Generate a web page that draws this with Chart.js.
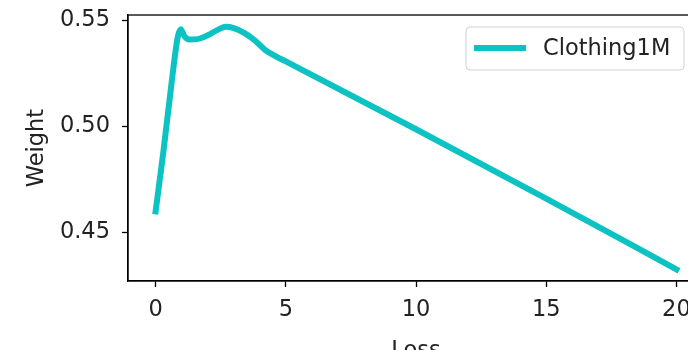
<!DOCTYPE html>
<html>
<head>
<meta charset="utf-8">
<script src="https://cdn.jsdelivr.net/npm/chart.js@4/dist/chart.umd.min.js"></script>
<style>
  html, body { margin: 0; padding: 0; overflow: hidden; background: #fff; width: 688px; height: 350px; }
  canvas { display: block; }
</style>
</head>
<body>
<canvas id="c" width="720" height="380" style="width:720px;height:380px"></canvas>
<script>
const seriesLabel = 'Clothing1M';
const lossValues   = [0, 0.3, 0.6, 0.85, 0.97, 1.1, 1.3, 1.6, 2.0, 2.4, 2.7, 3.0, 3.4, 3.8, 4.2, 4.6, 5, 10, 15, 20];
const weightValues = [0.4597, 0.488, 0.519, 0.542, 0.5457, 0.5425, 0.5408, 0.5410, 0.5428, 0.5455, 0.5468, 0.5462, 0.5440, 0.5405, 0.5360, 0.5330, 0.5305, 0.4985, 0.4658, 0.4324];
const xTickValues = [0, 5, 10, 15, 20];
const yTickValues = [0.45, 0.50, 0.55];
const xLabel = 'Loss';
const yLabel = 'Weight';

const FONT = 'DejaVu Sans';
const FS = 22.5;
const LINE_COLOR = '#0cc2c2';

const spinePlugin = {
  id: 'spines',
  afterDatasetsDraw(chart) {
    const {ctx, chartArea: a} = chart;
    ctx.save();
    ctx.strokeStyle = '#000';
    ctx.lineWidth = 1.3;
    ctx.strokeRect(a.left, a.top, a.right - a.left, a.bottom - a.top);
    ctx.restore();
  }
};

const legendPlugin = {
  id: 'mplLegend',
  afterDraw(chart) {
    const {ctx} = chart;
    const ds = chart.data.datasets[0];
    const x0 = 466, y0 = 27, w = 218, h = 43, r = 4;
    ctx.save();
    ctx.beginPath();
    ctx.moveTo(x0 + r, y0);
    ctx.arcTo(x0 + w, y0, x0 + w, y0 + h, r);
    ctx.arcTo(x0 + w, y0 + h, x0, y0 + h, r);
    ctx.arcTo(x0, y0 + h, x0, y0, r);
    ctx.arcTo(x0, y0, x0 + w, y0, r);
    ctx.closePath();
    ctx.fillStyle = 'rgba(255,255,255,0.8)';
    ctx.fill();
    ctx.strokeStyle = '#d0d0d0';
    ctx.lineWidth = 1;
    ctx.stroke();
    ctx.beginPath();
    ctx.moveTo(474, 48);
    ctx.lineTo(526, 48);
    ctx.strokeStyle = ds.borderColor;
    ctx.lineWidth = ds.borderWidth;
    ctx.lineCap = 'butt';
    ctx.stroke();
    ctx.fillStyle = '#222';
    ctx.font = FS + 'px "' + FONT + '"';
    ctx.textBaseline = 'middle';
    ctx.textAlign = 'left';
    ctx.fillText(ds.label, 543, 49);
    ctx.restore();
  }
};

new Chart(document.getElementById('c'), {
  type: 'line',
  data: {
    datasets: [{
      label: seriesLabel,
      data: lossValues.map((x, i) => ({x: x, y: weightValues[i]})),
      borderColor: LINE_COLOR,
      backgroundColor: LINE_COLOR,
      borderWidth: 6,
      pointRadius: 0,
      cubicInterpolationMode: 'monotone',
      borderCapStyle: 'square',
      borderJoinStyle: 'round',
      fill: false
    }]
  },
  options: {
    responsive: false,
    devicePixelRatio: 1,
    animation: false,
    layout: { padding: { top: 15, right: 16, left: 0, bottom: 0 } },
    plugins: { legend: { display: false }, tooltip: { enabled: false } },
    scales: {
      x: {
        type: 'linear',
        min: -1.06,
        max: 21.06,
        afterBuildTicks: (s) => { s.ticks = xTickValues.map(v => ({value: v})); },
        afterFit: (s) => { s.height = 99; s.paddingLeft = 0; s.paddingRight = 0; },
        grid: { drawOnChartArea: false, drawTicks: true, tickLength: 6, tickWidth: 1.3, tickColor: '#000' },
        border: { display: true, color: '#000', width: 1.3 },
        ticks: { color: '#222', font: { family: FONT, size: FS }, padding: 10, maxRotation: 0, autoSkip: false },
        title: { display: true, text: xLabel, color: '#222', font: { family: FONT, size: FS }, padding: { top: 0, bottom: 15 } }
      },
      y: {
        type: 'linear',
        min: 0.4269,
        max: 0.5524,
        afterBuildTicks: (s) => { s.ticks = yTickValues.map(v => ({value: v})); },
        afterFit: (s) => { s.width = 128; s.paddingTop = 0; s.paddingBottom = 0; },
        grid: { drawOnChartArea: false, drawTicks: true, tickLength: 6, tickWidth: 1.3, tickColor: '#000' },
        border: { display: true, color: '#000', width: 1.3 },
        ticks: { color: '#222', font: { family: FONT, size: FS }, padding: 12, callback: (v) => Number(v).toFixed(2) },
        title: { display: true, text: yLabel, color: '#222', font: { family: FONT, size: FS }, padding: { top: 23.5, bottom: 0 } }
      }
    }
  },
  plugins: [spinePlugin, legendPlugin]
});
</script>
</body>
</html>
